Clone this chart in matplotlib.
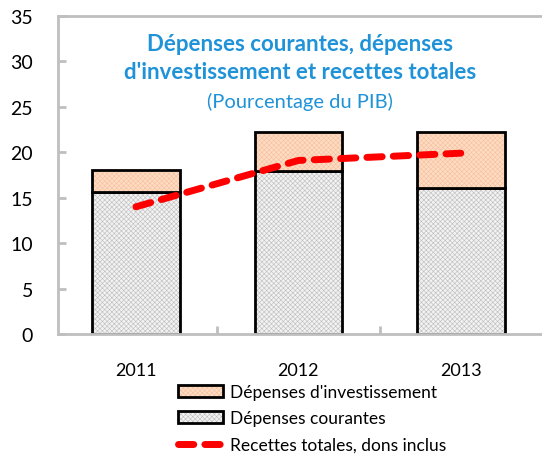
import matplotlib
matplotlib.use("Agg")
import matplotlib.pyplot as plt
import numpy as np
from matplotlib.lines import Line2D
from matplotlib.patches import Patch
from matplotlib.colors import to_rgba

plt.rcParams['font.family'] = ['Lato', 'DejaVu Sans']
plt.rcParams['hatch.linewidth'] = 0.4

years = ['2011', '2012', '2013']
courantes = [15.6, 17.9, 16.1]
investissement = [2.4, 4.3, 6.1]
recettes = [14.0, 19.1, 19.9]
yticks = [0, 5, 10, 15, 20, 25, 30, 35]

fig = plt.figure(figsize=(5.42, 4.6), dpi=100)
ax = fig.add_axes([58/542, 1-335/460, 1-58/542, (335-17)/460])

x = np.arange(len(years))
w = 0.54
HATCH = 'xxxxxxx'
GRAY_H = '#bdbdbd'
PEACH_H = '#f6bf9c'


def set_hc(p, c):
    p._hatch_color = to_rgba(c)


b1 = ax.bar(x, courantes, w, color='#f2f2f2', edgecolor='black', linewidth=2,
            hatch=HATCH, zorder=2)
b2 = ax.bar(x, investissement, w, bottom=courantes, color='#FDDCC4',
            edgecolor='black', linewidth=2, hatch=HATCH, zorder=2)
for p in b1:
    set_hc(p, GRAY_H)
for p in b2:
    set_hc(p, PEACH_H)
leg_cour = Patch(facecolor='#f2f2f2', edgecolor='black', linewidth=2, hatch=HATCH)
leg_inv = Patch(facecolor='#FDDCC4', edgecolor='black', linewidth=2, hatch=HATCH)
set_hc(leg_cour, GRAY_H)
set_hc(leg_inv, PEACH_H)

ax.plot(x, recettes, color='#FF0000', linewidth=5, dashes=(2.2, 1.6),
        dash_capstyle='round', zorder=3)

ax.set_ylim(0, 35)
ax.set_xlim(-0.48, 2.5)
ax.set_yticks(yticks)
ax.set_xticks(x)
ax.set_xticklabels(years)
ax.set_xticks([0.5, 1.5], minor=True)
ax.tick_params(axis='y', direction='in', length=6, width=2, color='#BFBFBF',
               labelsize=14, pad=18)
ax.tick_params(axis='x', which='major', length=0, labelsize=13, pad=20)
ax.tick_params(axis='x', which='minor', direction='in', length=6, width=2,
               color='#BFBFBF')
for s in ['left', 'bottom', 'top']:
    ax.spines[s].set_color('#BFBFBF')
    ax.spines[s].set_linewidth(2)
ax.spines['right'].set_visible(False)

blue = '#1F92D8'
ax.text(0.5, 0.913, 'Dépenses courantes, dépenses', transform=ax.transAxes,
        ha='center', va='center', color=blue, fontsize=16, fontweight='bold')
ax.text(0.5, 0.825, "d'investissement et recettes totales", transform=ax.transAxes,
        ha='center', va='center', color=blue, fontsize=16, fontweight='bold')
ax.text(0.5, 0.734, '(Pourcentage du PIB)', transform=ax.transAxes,
        ha='center', va='center', color=blue, fontsize=14.5)

handles = [
    leg_inv,
    leg_cour,
    Line2D([], [], color='#FF0000', linewidth=5, dashes=(2.2, 1.6),
           dash_capstyle='round'),
]
labels = ["Dépenses d'investissement", 'Dépenses courantes',
          'Recettes totales, dons inclus']
leg = fig.legend(handles, labels,
                 loc='upper left', bbox_to_anchor=(178/542, 1-385/460),
                 frameon=False, fontsize=12.5, handlelength=2.6,
                 handletextpad=0.4, labelspacing=0.6, borderaxespad=0,
                 borderpad=0)

fig.savefig('out.png', dpi=100)
